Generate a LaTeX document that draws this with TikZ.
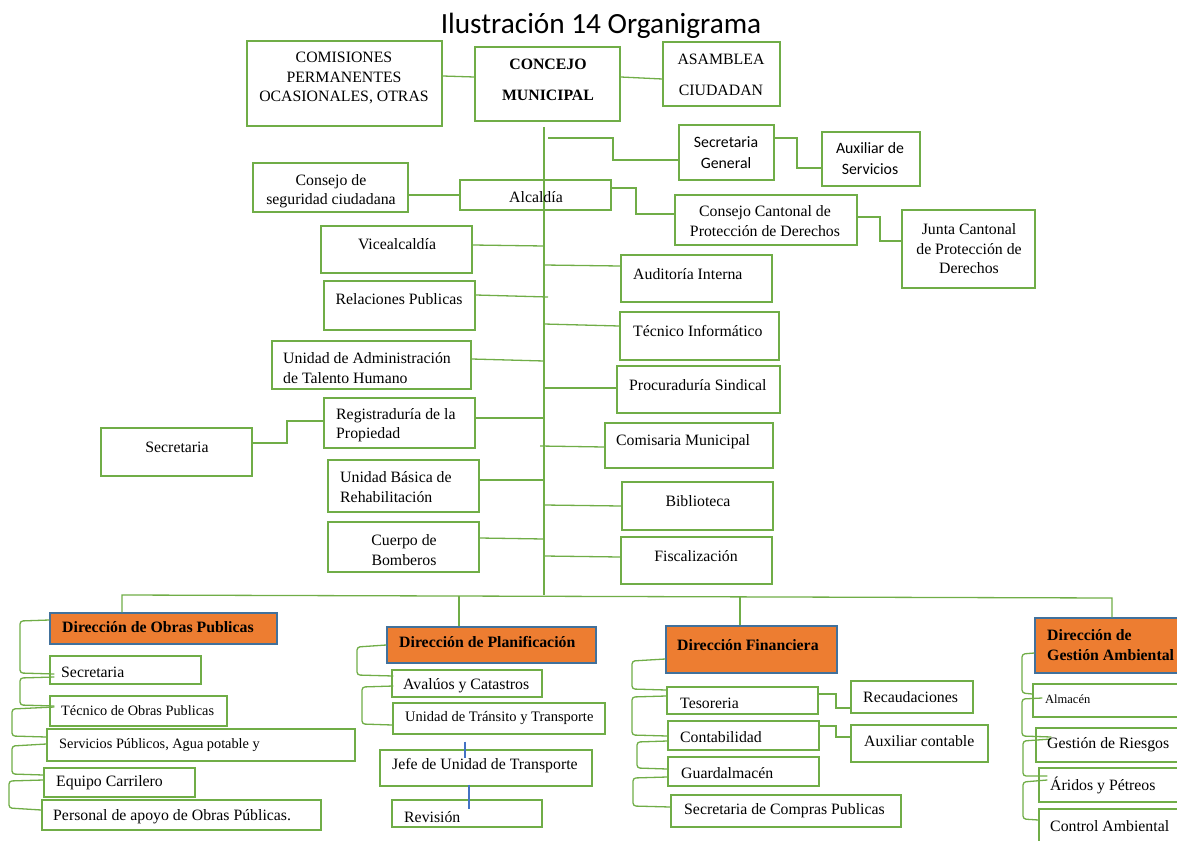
\documentclass[tikz,border=0pt]{standalone}
\usepackage{fontspec}
\setmainfont{Liberation Serif}
\newfontfamily\calfont{Carlito}
\usetikzlibrary{fit,calc}
\definecolor{lgreen}{HTML}{70AD47}
\definecolor{orng}{HTML}{ED7D31}
\definecolor{hblue}{HTML}{41719C}
\definecolor{lblue}{HTML}{4472C4}
\tikzset{
  ln/.style={draw=lgreen, line width=1.3pt},
  lnr/.style={ln, rounded corners=3pt},
  bl/.style={draw=lblue, line width=1.1pt},
  bxs/.style={draw=lgreen, line width=1.4pt, inner sep=0pt, rectangle},
  hds/.style={draw=hblue, fill=orng, line width=1.3pt, inner sep=0pt, rectangle},
  tx/.style={inner sep=0pt, font=\fontsize{15.8}{19.5}\selectfont, align=center},
  txl/.style={tx, anchor=west, align=left},
  txs/.style={txl, font=\fontsize{14.3}{18}\selectfont},
  txb/.style={txl, font=\bfseries\fontsize{15.8}{20}\selectfont},
  txc/.style={tx, font=\calfont\fontsize{15.8}{21}\selectfont},
}
\newcommand\Bx[5]{\node[bxs, fit={(#2,#3)(#4,#5)}] (#1) {};}
\newcommand\Hd[5]{\node[hds, fit={(#2,#3)(#4,#5)}] (#1) {};}
\begin{document}
\begin{tikzpicture}[x=1pt, y=-1pt]
\useasboundingbox (0,0) rectangle (1177,840);
\clip (0,0) rectangle (1177,840);

% title
\node[inner sep=0pt, anchor=base, font=\calfont\fontsize{29.3}{33}\selectfont] (title) at (601,34) {Ilustración 14 Organigrama};

% upper level boxes
\Bx{com}{247}{41}{442}{126}
\Bx{cm}{475}{47}{620}{121}
\Bx{asa}{663}{42}{780}{106}
\Bx{sg}{679}{125}{774}{180}
\Bx{aux}{822}{132}{920}{186}
\Bx{csc}{253}{163}{408}{212}
\Bx{alc}{460}{180}{611}{210}
\Bx{cc}{675}{195}{857}{245}
\Bx{jc}{902}{210}{1035}{288}
\Bx{vice}{321}{226}{472}{273}
\Bx{rel}{324}{281}{475}{330}
\Bx{uath}{272}{341}{471}{389}
\Bx{reg}{324}{398}{475}{448}
\Bx{secl}{101}{428}{252}{476}
\Bx{ubr}{328}{460}{479}{512}
\Bx{cb}{328}{522}{479}{572}
\Bx{aud}{621}{255}{772}{302}
\Bx{tin}{620}{312}{779}{360}
\Bx{psi}{617}{366}{780}{413}
\Bx{cmu}{605}{423}{773}{468}
\Bx{bib}{622}{482}{773}{530}
\Bx{fis}{621}{537}{772}{584}

% directorates
\Hd{dop}{50}{613}{277}{644}
\Hd{dpl}{387}{627}{596}{663}
\Hd{dfi}{666}{626}{837}{673}
\Hd{dga}{1035}{618}{1195}{673}

% units under each directorate
\Bx{sec1}{50}{656}{201}{684}
\Bx{tec}{50}{696}{227}{726}
\Bx{serv}{47}{729}{355}{761}
\Bx{eq}{44}{768}{195}{797}
\Bx{pers}{42}{800}{321}{830}
\Bx{aval}{392}{670}{542}{697}
\Bx{utt}{393}{703}{605}{734}
\Bx{jefe}{380}{750}{592}{786}
\Bx{rev}{392}{800}{542}{827}
\Bx{tes}{667}{687}{818}{714}
\Bx{cont}{668}{721}{819}{750}
\Bx{guard}{668}{757}{819}{786}
\Bx{scp}{671}{795}{901}{827}
\Bx{rec}{851}{681}{973}{713}
\Bx{auxc}{851}{725}{988}{762}
\Bx{alm}{1033}{684}{1195}{717}
\Bx{gr}{1036}{728}{1195}{762}
\Bx{ar}{1039}{768}{1195}{802}
\Bx{ca}{1039}{809}{1195}{850}

% trunk and bus
\coordinate (ttop) at (544,127);
\coordinate (bL) at (122,595);
\coordinate (bP) at (459,596);
\coordinate (bF) at (740,597);
\coordinate (bR) at (1112,598);
\draw[ln] (ttop) -- (ttop |- bL);
\draw[ln] (dop.north -| bL) -- (bL) -- (bR) -- (dga.north -| bR);
\draw[ln] (dpl.north -| bP) -- (bP);
\draw[ln] (dfi.north -| bF) -- (bF);

% top connectors
\draw[ln] (com.east |- 0,76) -- (cm.west |- 0,77);
\draw[ln] (cm.east |- 0,77) -- (asa.west |- 0,79);
\draw[ln] (548,138) -| (613,160) -- (sg.west |- 0,160);
\draw[ln] (sg.east |- 0,138) -| (797,168) -- (aux.west |- 0,168);
\draw[ln] (csc.east |- 0,195) -- (alc.west |- 0,195);
\draw[ln] (alc.east |- 0,188) -| (636,214) -- (cc.west |- 0,214);
\draw[ln] (cc.east |- 0,217) -| (880,241) -- (jc.west |- 0,241);

% left branches
\draw[ln] (vice.east |- 0,245) -- (ttop |- 0,246);
\draw[ln] (rel.east |- 0,295) -- (548,297);
\draw[ln] (uath.east |- 0,359) -- (ttop |- 0,361);
\draw[ln] (reg.east |- 0,418) -- (ttop |- 0,418);
\draw[ln] (secl.east |- 0,443) -| (287,421) -- (reg.west |- 0,421);
\draw[ln] (ubr.east |- 0,480) -- (ttop |- 0,480);
\draw[ln] (cb.east |- 0,538) -- (ttop |- 0,539);

% right branches
\draw[ln] (ttop |- 0,265) -- (aud.west |- 0,266);
\draw[ln] (ttop |- 0,324) -- (tin.west |- 0,326);
\draw[ln] (ttop |- 0,388) -- (psi.west |- 0,388);
\draw[ln] (540,446) -- (cmu.west |- 0,447);
\draw[ln] (ttop |- 0,505) -- (bib.west |- 0,506);
\draw[ln] (ttop |- 0,556) -- (fis.west |- 0,557);

% Obras Publicas brackets
\draw[lnr] (dop.west |- 0,620) -- (20,621) -- (20,673) -- ($(sec1.west |- 0,674)+(5,0)$);
\draw[lnr] ($(sec1.west |- 0,677)+(5,0)$) -- (20,678) -- (20,705) -- ($(tec.west |- 0,706)+(5,0)$);
\draw[lnr] ($(tec.west |- 0,707)+(5,0)$) -- (12,709) -- (12,736) -- ($(serv.west |- 0,737)$);
\draw[lnr] (serv.west |- 0,744) -- (12,746) -- (12,774) -- (eq.west |- 0,775);
\draw[lnr] (eq.west |- 0,780) -- (9,781) -- (9,808) -- (pers.west |- 0,810);

% Planificacion brackets
\draw[lnr] (dpl.west |- 0,645) -- (357,647) -- (357,675) -- ($(aval.west |- 0,676)+(2,0)$);
\draw[lnr] ($(aval.west |- 0,686)+(2,0)$) -- (362,687) -- (362,724) -- (utt.west |- 0,725);
\draw[bl] (utt.south -| 465,0) ++(0,7) -- ++(0,16);
\draw[bl] (jefe.south -| 469,0) ++(0,-2) -- ++(0,24);

% Financiera brackets
\draw[lnr] (dfi.west |- 0,659) -- (632,661) -- (632,689) -- (tes.west |- 0,690);
\draw[lnr] (tes.west |- 0,696) -- (632,697) -- (632,735) -- (cont.west |- 0,736);
\draw[lnr] (cont.west |- 0,741) -- (637,742) -- (637,768) -- (guard.west |- 0,769);
\draw[lnr] (guard.west |- 0,777) -- (633,778) -- (633,806) -- (scp.west |- 0,807);
\draw[ln] (tes.east |- 0,694) -| (836,708) -- (rec.west |- 0,708);
\draw[ln] (cont.east |- 0,726) -| (836,737) -- (auxc.west |- 0,737);

% Gestion Ambiental brackets
\draw[lnr] (dga.west |- 0,653) -- (1022,654) -- (1022,693) -- (alm.west |- 0,694);
\draw[lnr] ($(alm.west |- 0,698)+(10,0)$) -- (1022,699) -- (1022,736) -- ($(gr.west |- 0,737)+(16,0)$);
\draw[lnr] ($(gr.west |- 0,739)+(16,0)$) -- (1023,741) -- (1023,776) -- ($(ar.west |- 0,776)+(9,0)$);
\draw[lnr] ($(ar.west |- 0,780)+(9,0)$) -- (1023,782) -- (1023,819) -- (ca.west |- 0,820);

% texts, upper part
\node[tx] (t-com) at (344,78) {COMISIONES\\PERMANENTES\\OCASIONALES, OTRAS};
\node[tx, font=\bfseries\fontsize{15.8}{31}\selectfont] (t-cm) at (548,80) {CONCEJO\\MUNICIPAL};
\node[tx, font=\fontsize{15.8}{31}\selectfont] (t-asa) at (721,75) {ASAMBLEA\\CIUDADAN};
\node[txc] (t-sg) at (726,153) {Secretaria\\General};
\node[txc] (t-aux) at (870,159) {Auxiliar de\\Servicios};
\node[tx] (t-csc) at (331,191) {Consejo de\\seguridad ciudadana};
\node[tx] (t-alc) at (536,197) {Alcaldía};
\node[tx] (t-cc) at (765,221) {Consejo Cantonal de\\Protección de Derechos};
\node[tx] (t-jc) at (969,249) {Junta Cantonal\\de Protección de\\Derechos};
\node[tx] (t-vice) at (397,244) {Vicealcaldía};
\node[tx] (t-rel) at (399,299) {Relaciones Publicas};
\node[txl] (t-uath) at (283,368) {Unidad de Administración\\de Talento Humano};
\node[txl] (t-reg) at (336,425) {Registraduría de la\\Propiedad};
\node[tx] (t-secl) at (177,447) {Secretaria};
\node[txl] (t-ubr) at (340,487) {Unidad Básica de\\Rehabilitación};
\node[tx] (t-cb) at (404,550) {Cuerpo de\\Bomberos};
\node[txl] (t-aud) at (633,274) {Auditoría Interna};
\node[txl] (t-tin) at (633,331) {Técnico Informático};
\node[txl] (t-psi) at (629,385) {Procuraduría Sindical};
\node[txl] (t-cmu) at (616,442) {Comisaria Municipal};
\node[tx] (t-bib) at (698,501) {Biblioteca};
\node[tx] (t-fis) at (696,556) {Fiscalización};

% texts, directorates
\node[txb] (t-dop) at (62,627) {Dirección de Obras Publicas};
\node[txb] (t-dpl) at (399,642) {Dirección de Planificación};
\node[txb] (t-dfi) at (677,645) {Dirección Financiera};
\node[txb] (t-dga) at (1047,645) {Dirección de\\Gestión Ambiental};

% texts, units
\node[txl] (t-sec1) at (61,672) {Secretaria};
\node[txs] (t-tec) at (61,711) {Técnico de Obras Publicas};
\node[txs] (t-serv) at (59,745) {Servicios Públicos, Agua potable y};
\node[txl] (t-eq) at (56,783) {Equipo Carrilero};
\node[txl] (t-pers) at (53,817) {Personal de apoyo de Obras Públicas.};
\node[txl] (t-aval) at (403,686) {Avalúos y Catastros};
\node[txs, font=\fontsize{14.5}{18}\selectfont] (t-utt) at (405,718) {Unidad de Tránsito y Transporte};
\node[txl] (t-jefe) at (392,766) {Jefe de Unidad de Transporte};
\node[txl] (t-rev) at (404,817) {Revisión};
\node[txl] (t-tes) at (680,703) {Tesoreria};
\node[txl] (t-cont) at (680,737) {Contabilidad};
\node[txl] (t-guard) at (681,773) {Guardalmacén};
\node[txl] (t-scp) at (684,811) {Secretaria de Compras Publicas};
\node[txl] (t-rec) at (863,697) {Recaudaciones};
\node[txl] (t-auxc) at (864,741) {Auxiliar contable};
\node[txl, font=\fontsize{12.5}{15}\selectfont] (t-alm) at (1045,699) {Almacén};
\node[txl] (t-gr) at (1047,745) {Gestión de Riesgos};
\node[txl] (t-ar) at (1050,785) {Áridos y Pétreos};
\node[txl] (t-ca) at (1050,826) {Control Ambiental};
\end{tikzpicture}
\end{document}
